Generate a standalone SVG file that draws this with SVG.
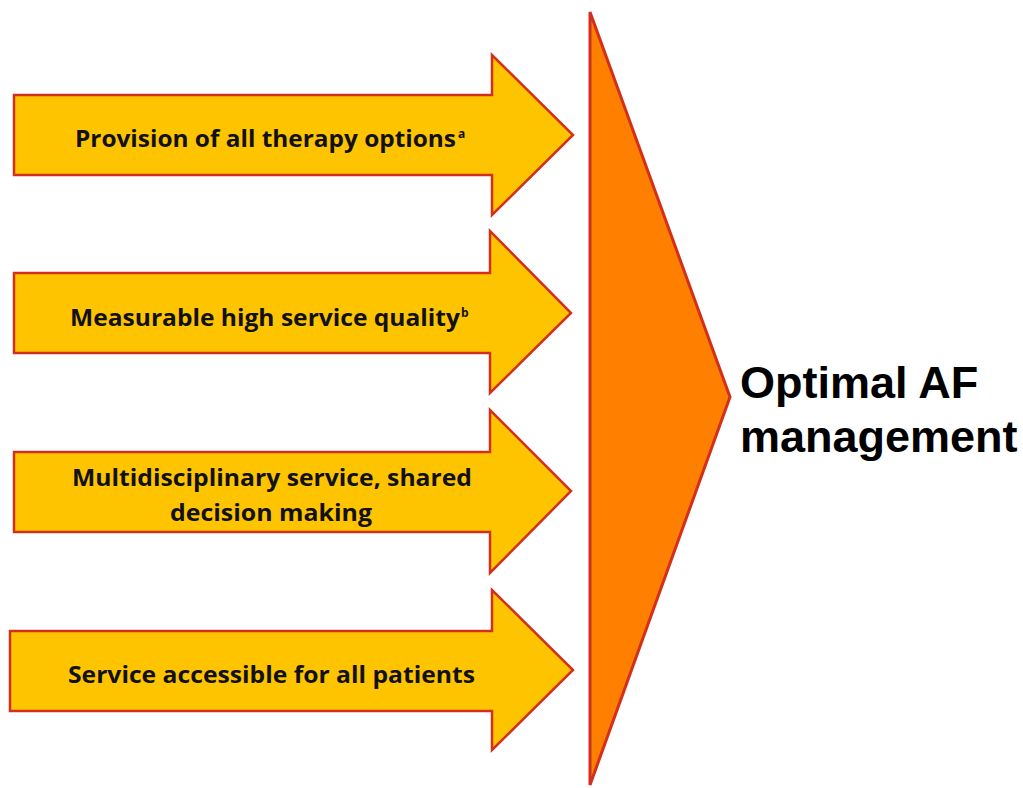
<svg xmlns="http://www.w3.org/2000/svg" width="1023" height="788" viewBox="0 0 1023 788">
<style>
.arr{fill:#FFC400;stroke:#D2301C;stroke-width:2.5;stroke-linejoin:miter}
.big{fill:#FF7F00;stroke:#D2301C;stroke-width:3}
.t{font-family:"Open Sans","Liberation Sans",Arial,sans-serif;font-weight:bold;font-size:23px;fill:#111}
.sup{font-family:"Open Sans","Liberation Sans",Arial,sans-serif;font-weight:bold;font-size:12px;fill:#111}
.h{font-family:"Liberation Sans",Arial,sans-serif;font-weight:bold;font-size:45px;fill:#000}
</style>
<rect width="1023" height="788" fill="#fff"/>
<g id="target">
<polygon class="big" points="590,12 730,397 590,785"/>
<text class="h" x="740" y="398">Optimal AF</text>
<text class="h" x="740" y="452">management</text>
</g>
<g id="connectors"></g>
<g id="n1">
<polygon class="arr" points="14,95 492,95 492,55 573,135 492,215 492,175 14,175"/>
<text class="t" x="75" y="147" textLength="381" lengthAdjust="spacingAndGlyphs">Provision of all therapy options</text>
<text class="sup" x="458" y="138">a</text>
</g>
<g id="n2">
<polygon class="arr" points="14,273 490,273 490,231 571,313 490,393 490,353 14,353"/>
<text class="t" x="70" y="326" textLength="390" lengthAdjust="spacingAndGlyphs">Measurable high service quality</text>
<text class="sup" x="461" y="317">b</text>
</g>
<g id="n3">
<polygon class="arr" points="14,452 490,452 490,410 571,491 490,573 490,532 14,532"/>
<text class="t" x="72" y="486" textLength="400" lengthAdjust="spacingAndGlyphs">Multidisciplinary service, shared</text>
<text class="t" x="170" y="521" textLength="202" lengthAdjust="spacingAndGlyphs">decision making</text>
</g>
<g id="n4">
<polygon class="arr" points="10,631 492,631 492,590 573,670 492,750 492,711 10,711"/>
<text class="t" x="68" y="683" textLength="407" lengthAdjust="spacingAndGlyphs">Service accessible for all patients</text>
</g>
</svg>
